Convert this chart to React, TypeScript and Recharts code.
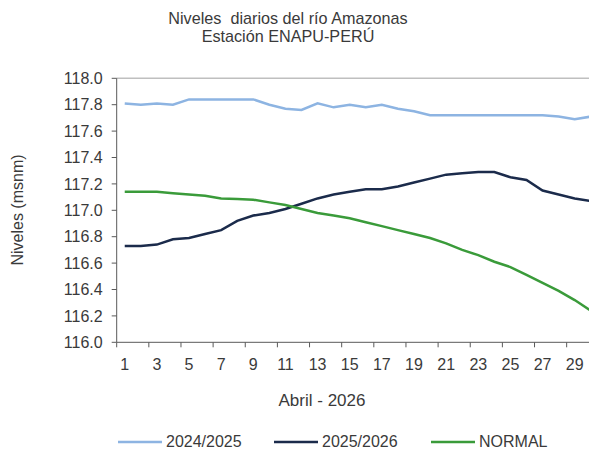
import React from "react";
import { LineChart, Line, XAxis, YAxis, ReferenceLine } from "recharts";

const days: number[] = Array.from({ length: 30 }, (_, i) => i + 1);

const serie2024: number[] = [
  117.81, 117.8, 117.81, 117.8, 117.84, 117.84, 117.84, 117.84, 117.84, 117.8,
  117.77, 117.76, 117.81, 117.78, 117.8, 117.78, 117.8, 117.77, 117.75, 117.72,
  117.72, 117.72, 117.72, 117.72, 117.72, 117.72, 117.72, 117.71, 117.69, 117.71,
];

const serie2025: number[] = [
  116.73, 116.73, 116.74, 116.78, 116.79, 116.82, 116.85, 116.92, 116.96, 116.98,
  117.01, 117.05, 117.09, 117.12, 117.14, 117.16, 117.16, 117.18, 117.21, 117.24,
  117.27, 117.28, 117.29, 117.29, 117.25, 117.23, 117.15, 117.12, 117.09, 117.07,
];

const serieNormal: number[] = [
  117.14, 117.14, 117.14, 117.13, 117.12, 117.11, 117.09, 117.085, 117.08, 117.06,
  117.04, 117.01, 116.98, 116.96, 116.94, 116.91, 116.88, 116.85, 116.82, 116.79,
  116.75, 116.7, 116.66, 116.61, 116.57, 116.51, 116.45, 116.39, 116.32, 116.24,
];

const yTicks: number[] = [116.0, 116.2, 116.4, 116.6, 116.8, 117.0, 117.2, 117.4, 117.6, 117.8, 118.0];
const xLabelTicks: number[] = [1, 3, 5, 7, 9, 11, 13, 15, 17, 19, 21, 23, 25, 27, 29];
const xMarkTicks: number[] = [0.5, 2.5, 4.5, 6.5, 8.5, 10.5, 12.5, 14.5, 16.5, 18.5, 20.5, 22.5, 24.5, 26.5, 28.5];

const titleLines: string[] = ["Niveles  diarios del río Amazonas", "Estación ENAPU-PERÚ"];
const yAxisTitle = "Niveles (msnm)";
const xAxisTitle = "Abril - 2026";

const series = [
  { key: "s2024", name: "2024/2025", color: "#8DB4E2", values: serie2024 },
  { key: "s2025", name: "2025/2026", color: "#1B2B4B", values: serie2025 },
  { key: "normal", name: "NORMAL", color: "#3A9B3A", values: serieNormal },
];

const data = days.map((d, i) => {
  const row: Record<string, number> = { day: d };
  series.forEach((s) => {
    row[s.key] = s.values[i];
  });
  return row;
});

const FONT = "'Liberation Sans', Arial, sans-serif";
const TEXT = "#3a3a3a";
const AXIS = "#595959";

const TICK_SIZE = 5;
const TICK_MARGIN = 11;

const XTick = (props: any) => {
  const { x, y, payload } = props;
  const v = payload.value as number;
  if (Number.isInteger(v)) {
    return (
      <text x={x} y={y} dy="0.71em" textAnchor="middle" fill={TEXT} fontSize={16} fontFamily={FONT}>
        {v}
      </text>
    );
  }
  const axisY = y - TICK_SIZE - TICK_MARGIN;
  return <line x1={x} x2={x} y1={axisY} y2={axisY + TICK_SIZE} stroke={AXIS} strokeWidth={1} />;
};

const legendX = [110, 266, 423];

export default function App() {
  const allTicks = [...xMarkTicks, ...xLabelTicks].sort((a, b) => a - b);
  return (
    <div style={{ position: "relative", width: 589, height: 445, overflow: "hidden", fontFamily: FONT, color: TEXT }}>
      <div
        style={{
          position: "absolute",
          left: 80,
          top: 1,
          width: 400,
          textAlign: "center",
          fontSize: 16.2,
          lineHeight: "18px",
          whiteSpace: "pre",
        }}
      >
        {titleLines.map((t) => (
          <div key={t}>{t}</div>
        ))}
      </div>
      <LineChart
        width={600}
        height={445}
        data={data}
        margin={{ top: 70.3, left: 48.7, right: 9.2, bottom: 80.7 }}
      >
        <XAxis
          dataKey="day"
          type="number"
          domain={[0.5, 30.5]}
          ticks={allTicks}
          interval={0}
          tick={<XTick />}
          tickLine={false}
          tickSize={TICK_SIZE}
          tickMargin={TICK_MARGIN}
          height={30}
          axisLine={{ stroke: AXIS, strokeWidth: 1 }}
          allowDataOverflow
        />
        <YAxis
          type="number"
          domain={[116, 118]}
          ticks={yTicks}
          interval={0}
          width={60}
          tickFormatter={(v: number) => v.toFixed(1)}
          tick={{ fill: TEXT, fontSize: 16, fontFamily: FONT }}
          tickSize={TICK_SIZE}
          tickMargin={9}
          tickLine={{ stroke: AXIS }}
          axisLine={{ stroke: AXIS, strokeWidth: 1 }}
        />
        <ReferenceLine y={118} stroke="#BFBFBF" strokeWidth={1.5} />
        {series.map((s) => (
          <Line
            key={s.key}
            dataKey={s.key}
            name={s.name}
            stroke={s.color}
            strokeWidth={2.5}
            dot={false}
            activeDot={false}
            type="linear"
            isAnimationActive={false}
          />
        ))}
      </LineChart>
      <div
        style={{
          position: "absolute",
          left: 10 - 8,
          top: 210 - 8,
          width: 0,
          height: 0,
        }}
      >
        <div
          style={{
            position: "absolute",
            left: -60,
            top: -10,
            width: 120,
            textAlign: "center",
            fontSize: 16,
            lineHeight: "20px",
            transform: "rotate(-90deg)",
            whiteSpace: "nowrap",
            marginLeft: 8,
          }}
        >
          {yAxisTitle}
        </div>
      </div>
      <div
        style={{
          position: "absolute",
          left: 314 - 100,
          top: 391 - 8,
          width: 200,
          textAlign: "center",
          fontSize: 17,
          lineHeight: "20px",
        }}
      >
        {xAxisTitle}
      </div>
      {series.map((s, i) => (
        <div
          key={s.key}
          style={{
            position: "absolute",
            left: legendX[i],
            top: 432 - 8,
            height: 20,
            display: "flex",
            alignItems: "center",
            fontSize: 16,
            whiteSpace: "nowrap",
          }}
        >
          <svg width={48} height={20}>
            <line x1={0} x2={44} y1={10} y2={10} stroke={s.color} strokeWidth={2.5} />
          </svg>
          <span>{s.name}</span>
        </div>
      ))}
    </div>
  );
}
